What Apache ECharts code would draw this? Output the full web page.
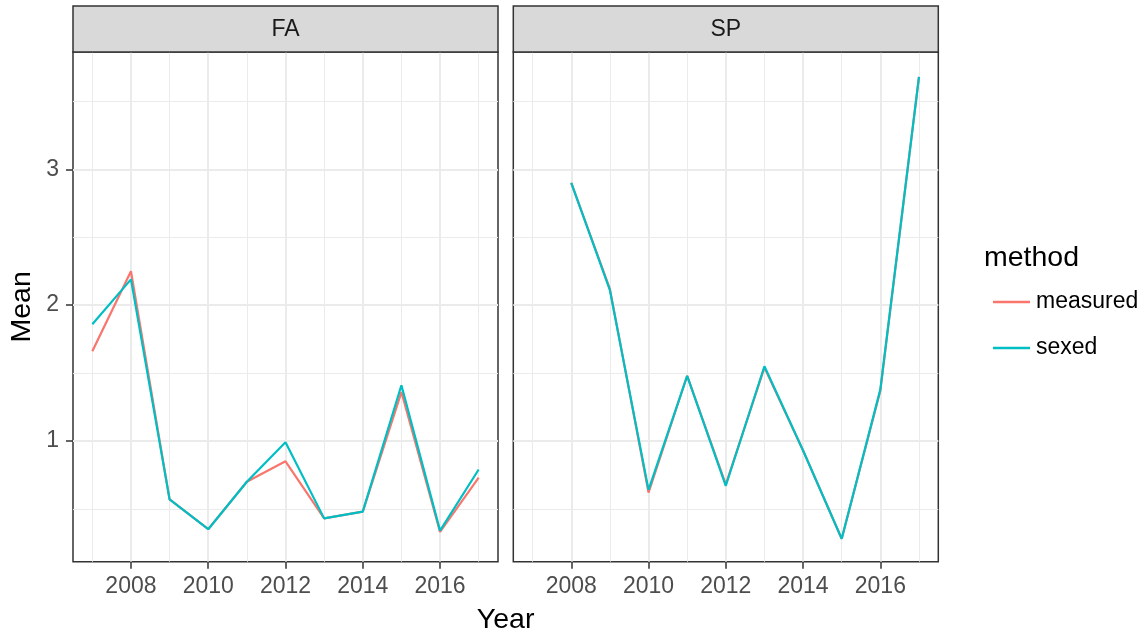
<!DOCTYPE html>
<html>
<head>
<meta charset="utf-8">
<script src="https://cdn.jsdelivr.net/npm/echarts@6/dist/echarts.min.js"></script>
<style>
html,body{margin:0;padding:0;background:#fff;}
#chart{width:1146px;height:634px;}
</style>
</head>
<body>
<div id="chart"></div>
<script>
// ---- data ----
const faYears = [2007, 2008, 2009, 2010, 2011, 2012, 2013, 2014, 2015, 2016, 2017];
const faMeasured = [1.66, 2.25, 0.57, 0.35, 0.70, 0.85, 0.43, 0.48, 1.36, 0.33, 0.73];
const faSexed    = [1.86, 2.19, 0.57, 0.35, 0.70, 0.99, 0.43, 0.48, 1.41, 0.34, 0.79];
const spYears = [2008, 2009, 2010, 2011, 2012, 2013, 2014, 2015, 2016, 2017];
const spMeasured = [2.90, 2.12, 0.62, 1.48, 0.68, 1.54, 0.93, 0.28, 1.37, 3.68];
const spSexed    = [2.90, 2.11, 0.64, 1.48, 0.67, 1.55, 0.93, 0.28, 1.38, 3.68];
const panels = ['FA', 'SP'];
const methods = ['measured', 'sexed'];
const xMajor = [2008, 2010, 2012, 2014, 2016];
const xMinor = [2007, 2009, 2011, 2013, 2015, 2017];
const yMajor = [1, 2, 3];
const yMinor = [0.5, 1.5, 2.5, 3.5];
const xTitle = 'Year';
const yTitle = 'Mean';
const legendTitle = 'method';

// ---- layout ----
const FONT = '"Liberation Sans", Arial, sans-serif';
const colors = {measured: '#F8766D', sexed: '#00BFC4'};
const gridTop = 52, gridH = 509.7;
const gridLefts = [73, 513.3];
const gridW = 425;
const stripTop = 6;
const xMin = 2006.5, xMax = 2017.5, yMin = 0.111, yMax = 3.864;
const TICK_FS = 23;

const pair = (xs, ys) => xs.map((x, i) => [x, ys[i]]);

const grids = [], xAxes = [], yAxes = [], series = [], graphics = [];
gridLefts.forEach((left, p) => {
  grids.push({left: left, top: gridTop, width: gridW, height: gridH,
    show: true, borderColor: '#333333', borderWidth: 1.5, backgroundColor: '#fff',
    outerBoundsMode: 'none', containLabel: false, z: 0});
  // minor x grid
  xAxes.push({type: 'value', gridIndex: p, position: 'bottom', offset: 0, min: xMin, max: xMax,
    axisLine: {show: false}, axisLabel: {show: false},
    axisTick: {show: false, customValues: xMinor},
    splitLine: {show: true, lineStyle: {color: '#ebebeb', width: 1}}});
  // major x axis
  xAxes.push({type: 'value', gridIndex: p, position: 'bottom', offset: 0, min: xMin, max: xMax,
    axisLine: {show: false},
    axisTick: {show: true, length: 7, customValues: xMajor, lineStyle: {color: '#333333', width: 1.5}},
    axisLabel: {show: true, customValues: xMajor, margin: 13, color: '#4d4d4d', fontSize: TICK_FS, fontFamily: FONT,
      formatter: v => String(v)},
    splitLine: {show: true, lineStyle: {color: '#ebebeb', width: 2}}});
  // minor y grid
  yAxes.push({type: 'value', gridIndex: p, position: 'left', offset: 0, min: yMin, max: yMax,
    axisLine: {show: false}, axisLabel: {show: false},
    axisTick: {show: false, customValues: yMinor},
    splitLine: {show: true, lineStyle: {color: '#ebebeb', width: 1}}});
  // major y axis
  yAxes.push({type: 'value', gridIndex: p, position: 'left', offset: 0, min: yMin, max: yMax,
    axisLine: {show: false},
    axisTick: {show: p === 0, length: 7, customValues: yMajor, lineStyle: {color: '#333333', width: 1.5}},
    axisLabel: {show: p === 0, customValues: yMajor, margin: 14, color: '#4d4d4d', fontSize: TICK_FS, fontFamily: FONT,
      formatter: v => String(v)},
    splitLine: {show: true, lineStyle: {color: '#ebebeb', width: 2}}});
  // strip
  graphics.push({type: 'rect', shape: {x: left, y: stripTop, width: gridW, height: gridTop - stripTop},
    style: {fill: '#d9d9d9', stroke: '#333333', lineWidth: 1.5}, z: 10});
  graphics.push({type: 'text', x: left + gridW / 2, y: (stripTop + gridTop) / 2 + 1,
    style: {text: panels[p], fill: '#1a1a1a', font: TICK_FS + 'px ' + FONT, textAlign: 'center', textVerticalAlign: 'middle'}, z: 11});
});

const panelData = [
  {xs: faYears, m: faMeasured, s: faSexed},
  {xs: spYears, m: spMeasured, s: spSexed}
];
panelData.forEach((d, p) => {
  [['measured', d.m], ['sexed', d.s]].forEach(([name, vals]) => {
    series.push({type: 'line', name: name, xAxisIndex: p * 2 + 1, yAxisIndex: p * 2 + 1,
      data: pair(d.xs, vals), symbol: 'none', showSymbol: false, smooth: false,
      lineStyle: {color: colors[name], width: 2.2}, itemStyle: {color: colors[name]},
      animation: false, z: 5});
  });
});

// axis titles and legend title
graphics.push({type: 'text', x: (gridLefts[0] + gridLefts[1] + gridW) / 2, y: 620,
  style: {text: xTitle, fill: '#000', font: '28.5px ' + FONT, textAlign: 'center', textVerticalAlign: 'middle'}});
graphics.push({type: 'text', x: 22, y: gridTop + gridH / 2, rotation: Math.PI / 2,
  style: {text: yTitle, fill: '#000', font: '28.5px ' + FONT, textAlign: 'center', textVerticalAlign: 'middle'}});
graphics.push({type: 'text', x: 984, y: 258,
  style: {text: legendTitle, fill: '#000', font: '28.5px ' + FONT, textAlign: 'left', textVerticalAlign: 'middle'}});

const option = {
  backgroundColor: '#ffffff',
  animation: false,
  grid: grids,
  xAxis: xAxes,
  yAxis: yAxes,
  legend: {
    data: methods, orient: 'vertical', left: 988, top: 285,
    itemWidth: 37, itemHeight: 2.5, itemGap: 22, icon: 'rect',
    textStyle: {color: '#000', fontSize: TICK_FS, fontFamily: FONT, lineHeight: 24, padding: [0, 0, 0, 1]},
    inactiveColor: '#ccc', selectedMode: false
  },
  series: series,
  graphic: graphics
};
const chart = echarts.init(document.getElementById('chart'), null, {renderer: 'canvas'});
chart.setOption(option);
</script>
</body>
</html>
